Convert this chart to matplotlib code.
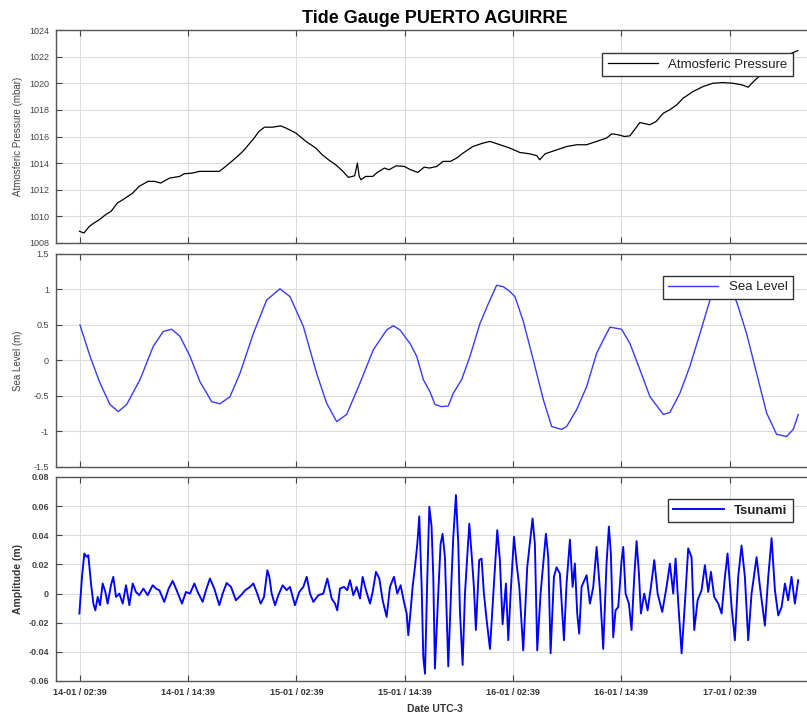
import matplotlib
matplotlib.use("Agg")
import matplotlib.pyplot as plt
import numpy as np

plt.rcParams['font.family'] = ['Liberation Sans', 'DejaVu Sans']

# time axis: hours since 14-01 00:00 (UTC-3)
tick_hours = [2.65, 14.65, 26.65, 38.65, 50.65, 62.65, 74.65]
tick_labels = ['14-01 / 02:39', '14-01 / 14:39', '15-01 / 02:39', '15-01 / 14:39',
               '16-01 / 02:39', '16-01 / 14:39', '17-01 / 02:39']

# atmospheric pressure (mbar)
pres_t = [2.6, 3.1, 3.7, 4.2, 4.8, 5.5, 6.1, 6.8, 7.4, 8.5, 9.2, 10.2, 10.9, 11.6,
          12.6, 13.7, 14.2, 15.1, 15.9, 17.0, 18.1, 18.8, 19.9, 20.7, 21.8, 22.5,
          23.1, 24.0, 24.9, 25.5, 26.6, 27.7, 28.8, 29.5, 30.3, 31.0, 31.8, 32.4,
          33.1, 33.4, 33.6, 33.8, 34.3, 35.1, 35.6, 36.4, 36.9, 37.7, 38.6, 39.3,
          40.1, 40.8, 41.4, 42.2, 42.9, 43.7, 44.4, 45.1, 46.2, 47.3, 48.1, 49.2,
          50.3, 51.4, 52.5, 53.3, 53.6, 54.2, 55.5, 56.6, 57.7, 58.8, 59.9, 61.0,
          61.6, 62.3, 63.0, 63.6, 64.1, 64.7, 65.8, 66.5, 67.3, 68.0, 68.8, 69.5,
          70.6, 71.7, 72.8, 73.9, 75.0, 76.0, 76.7, 77.4, 78.4, 79.5, 80.6, 81.5, 82.2]
pres_v = [1008.88, 1008.75, 1009.25, 1009.5, 1009.75, 1010.13, 1010.38, 1011.0,
          1011.25, 1011.75, 1012.25, 1012.63, 1012.63, 1012.5, 1012.88, 1013.0,
          1013.2, 1013.25, 1013.38, 1013.38, 1013.38, 1013.75, 1014.38, 1014.88,
          1015.75, 1016.38, 1016.7, 1016.7, 1016.8, 1016.63, 1016.25, 1015.63,
          1015.13, 1014.63, 1014.2, 1013.88, 1013.38, 1012.93, 1013.05, 1014.0,
          1013.0, 1012.75, 1013.0, 1013.0, 1013.3, 1013.63, 1013.5, 1013.8,
          1013.75, 1013.5, 1013.3, 1013.7, 1013.63, 1013.75, 1014.13, 1014.13,
          1014.38, 1014.75, 1015.25, 1015.5, 1015.63, 1015.38, 1015.13, 1014.8,
          1014.7, 1014.55, 1014.25, 1014.7, 1015.0, 1015.25, 1015.38, 1015.38,
          1015.63, 1015.88, 1016.2, 1016.13, 1016.0, 1016.05, 1016.5, 1017.05,
          1016.88, 1017.13, 1017.75, 1018.0, 1018.38, 1018.88, 1019.38, 1019.75,
          1020.0, 1020.05, 1020.0, 1019.88, 1019.7, 1020.2, 1020.8, 1021.38,
          1021.88, 1022.25, 1022.45]

# sea level (m)
sea_t = [2.66, 3.77, 4.88, 5.98, 6.91, 7.83, 9.31, 10.78, 11.89, 12.82, 13.74, 14.85,
         15.96, 17.25, 18.17, 19.28, 20.39, 21.87, 23.34, 24.82, 25.93, 27.41, 28.88,
         29.99, 31.10, 32.21, 33.68, 35.16, 36.64, 37.38, 38.12, 39.23, 39.97, 40.71,
         41.44, 42.0, 42.74, 43.48, 44.03, 44.95, 45.88, 46.98, 47.91, 48.83, 49.57,
         50.31, 50.86, 51.79, 52.89, 54.0, 54.93, 56.03, 56.59, 57.70, 58.80, 59.91,
         60.65, 61.39, 62.68, 63.60, 64.71, 65.82, 67.30, 68.04, 69.14, 70.25, 71.36,
         72.47, 73.58, 74.50, 75.42, 76.53, 77.64, 78.75, 79.86, 80.96, 81.70, 82.26]
sea_v = [0.50, 0.06, -0.32, -0.62, -0.72, -0.62, -0.27, 0.20, 0.41, 0.44, 0.34, 0.06,
         -0.30, -0.58, -0.61, -0.51, -0.18, 0.38, 0.85, 1.01, 0.90, 0.48, -0.18, -0.60,
         -0.86, -0.76, -0.32, 0.15, 0.43, 0.49, 0.43, 0.24, 0.06, -0.27, -0.44, -0.62,
         -0.65, -0.64, -0.46, -0.27, 0.06, 0.52, 0.80, 1.06, 1.04, 0.97, 0.90, 0.55,
         0.01, -0.55, -0.93, -0.97, -0.93, -0.69, -0.37, 0.10, 0.29, 0.47, 0.44, 0.24,
         -0.13, -0.51, -0.76, -0.73, -0.46, -0.08, 0.38, 0.85, 1.02, 1.02, 0.83, 0.38,
         -0.18, -0.74, -1.04, -1.07, -0.97, -0.76]

# tsunami residual (m)
tsu_t = [2.59, 2.88, 3.14, 3.40, 3.58, 3.88, 4.14, 4.36, 4.62, 4.88, 5.17, 5.47, 5.72,
         6.09, 6.35, 6.65, 7.02, 7.39, 7.76, 8.13, 8.50, 8.86, 9.23, 9.68, 10.16, 10.71,
         11.08, 11.45, 12.00, 12.48, 12.93, 13.37, 13.96, 14.40, 14.85, 15.33, 15.70,
         16.25, 16.62, 17.06, 17.54, 18.10, 18.47, 18.91, 19.39, 19.94, 20.50, 20.98,
         21.50, 21.87, 22.24, 22.68, 23.05, 23.42, 23.64, 23.90, 24.27, 24.64, 25.12,
         25.56, 25.93, 26.48, 26.96, 27.41, 27.78, 28.15, 28.52, 29.07, 29.62, 30.07,
         30.55, 30.92, 31.17, 31.47, 31.91, 32.28, 32.58, 32.95, 33.32, 33.69, 33.98,
         34.35, 34.80, 35.09, 35.46, 35.83, 36.20, 36.64, 37.01, 37.45, 37.82, 38.19,
         38.56, 38.86, 39.04, 39.30, 39.52, 39.78, 40.04, 40.26, 40.52, 40.70, 40.89,
         41.15, 41.37, 41.62, 41.81, 41.99, 42.36, 42.62, 42.84, 43.10, 43.47, 43.84,
         44.02, 44.32, 44.58, 44.76, 45.06, 45.32, 45.57, 45.80, 46.05, 46.31, 46.53,
         46.90, 47.16, 47.42, 47.72, 48.09, 48.53, 48.90, 49.19, 49.49, 49.86, 50.12,
         50.38, 50.75, 51.04, 51.34, 51.78, 52.22, 52.81, 53.07, 53.33, 53.70, 54.29,
         54.55, 54.81, 55.18, 55.47, 55.84, 56.29, 56.58, 56.95, 57.25, 57.50, 57.76,
         57.98, 58.24, 58.80, 59.17, 59.54, 59.91, 60.28, 60.64, 61.01, 61.27, 61.49,
         61.75, 62.01, 62.31, 62.68, 62.86, 63.12, 63.49, 63.78, 64.08, 64.34, 64.60,
         64.82, 65.19, 65.56, 65.93, 66.30, 66.67, 67.18, 67.66, 68.03, 68.40, 68.66,
         68.96, 69.33, 69.69, 70.06, 70.43, 70.73, 71.10, 71.54, 71.91, 72.28, 72.58,
         72.94, 73.39, 73.76, 74.13, 74.42, 74.87, 75.23, 75.60, 75.97, 76.34, 76.71,
         77.08, 77.64, 78.01, 78.56, 78.93, 79.30, 79.67, 80.04, 80.41, 80.78, 81.14,
         81.51, 81.88, 82.25]
tsu_v = [-0.0137, 0.0115, 0.0275, 0.0252, 0.0263, 0.0069, -0.0069, -0.0115, -0.0023,
         -0.0080, 0.0069, 0.0011, -0.0069, 0.0057, 0.0115, -0.0023, 0.0, -0.0069,
         0.0057, -0.0080, 0.0069, 0.0011, -0.0011, 0.0034, -0.0011, 0.0057, 0.0034,
         0.0023, -0.0057, 0.0034, 0.0087, 0.0023, -0.0069, 0.0011, 0.0, 0.0069, 0.0011,
         -0.0057, 0.0023, 0.0103, 0.0034, -0.0080, 0.0, 0.0073, 0.0046, -0.0046,
         -0.0011, 0.0023, 0.0046, 0.0069, 0.0011, -0.0069, -0.0023, 0.016, 0.0115,
         0.0, -0.008, -0.0011, 0.0057, 0.0023, 0.0046, -0.008, 0.0011, 0.0046, 0.0115,
         0.0, -0.0057, -0.0011, 0.0, 0.0103, -0.0034, -0.0069, -0.0115, 0.0034, 0.0046,
         0.0023, 0.0092, -0.0011, 0.0046, -0.0034, 0.0115, 0.0023, -0.0069, 0.0011,
         0.0149, 0.0103, -0.0046, -0.016, 0.0046, 0.0115, 0.0, 0.0057, -0.0057,
         -0.0137, -0.0286, -0.0115, 0.0046, 0.0183, 0.034, 0.053, 0.005, -0.0435,
         -0.055, 0.0115, 0.0596, 0.046, 0.0115, -0.0515, 0.0, 0.034, 0.041, 0.025,
         -0.050, 0.0115, 0.038, 0.0676, 0.034, -0.0115, -0.049, 0.0, 0.025, 0.048,
         0.0275, 0.0046, -0.025, 0.023, 0.024, 0.0, -0.018, -0.038, 0.0069, 0.0435,
         0.023, -0.021, 0.0069, -0.032, 0.0, 0.039, 0.0206, 0.0046, -0.039, 0.018,
         0.0515, 0.034, -0.039, 0.0, 0.041, 0.025, -0.041, 0.0115, 0.018, 0.0137,
         -0.032, 0.0069, 0.037, 0.0046, 0.0206, -0.0137, -0.0275, 0.0046, 0.0126,
         -0.0069, 0.0046, 0.032, 0.0023, -0.038, 0.0206, 0.046, 0.0275, -0.030,
         -0.0115, -0.0092, 0.023, 0.032, 0.0, -0.0069, -0.025, 0.0115, 0.036, 0.0137,
         -0.0137, 0.0, -0.0115, 0.0046, 0.023, 0.0, -0.0126, 0.0046, 0.0206, 0.0,
         0.024, -0.0069, -0.041, -0.0069, 0.031, 0.025, -0.025, -0.0046, 0.0023,
         0.0195, 0.0011, 0.0149, -0.0023, -0.0069, -0.0137, 0.0115, 0.0275, -0.0092,
         -0.032, 0.0115, 0.033, 0.0115, -0.032, 0.0, 0.025, 0.0046, -0.022, 0.0115,
         0.038, 0.0023, -0.015, -0.0092, 0.0069, -0.0046, 0.0115, -0.0069, 0.0092]

W, H = 807, 717
fig = plt.figure(figsize=(W / 100, H / 100), dpi=100)
left = 56 / W
width = 758 / W


def panel(top_px, bot_px):
    return fig.add_axes([left, 1 - bot_px / H, width, (bot_px - top_px) / H])


def style(ax, yticks, ylabels, bold=False):
    ax.set_xlim(0, 84)
    ax.set_xticks(tick_hours)
    ax.set_yticks(yticks)
    ax.set_ylim(yticks[0], yticks[-1])
    ax.set_yticklabels(ylabels, fontsize=6.5, color='#333333',
                       fontweight='bold' if bold else 'normal')
    ax.grid(True, color='#dcdcdc', lw=0.8)
    ax.set_axisbelow(True)
    ax.tick_params(direction='in', top=True, right=True, length=4, width=0.8,
                   colors='#444444', pad=5)
    for s in ax.spines.values():
        s.set_color('#555555')
        s.set_linewidth(1.0)


ax1 = panel(30, 243)
ax1.plot(pres_t, pres_v, color='black', lw=0.9, label='Atmosferic Pressure')
style(ax1, list(range(1008, 1025, 2)), [str(v) for v in range(1008, 1025, 2)])
ax1.set_xticklabels([])
ax1.set_ylabel('Atmosferic Pressure (mbar)', fontsize=7, color='#444444')
ax1.yaxis.set_label_coords(-0.044, 0.5)
ax1.set_title('Tide Gauge PUERTO AGUIRRE', fontsize=13, fontweight='bold', pad=5)

ax2 = panel(254, 467)
ax2.plot(sea_t, sea_v, color='#3a3aff', lw=1.0, label='Sea Level')
style(ax2, [-1.5, -1, -0.5, 0, 0.5, 1, 1.5], ['-1.5', '-1', '-0.5', '0', '0.5', '1', '1.5'])
ax2.set_xticklabels([])
ax2.set_ylabel('Sea Level (m)', fontsize=7, color='#444444')
ax2.yaxis.set_label_coords(-0.044, 0.5)

ax3 = panel(477, 681)
ax3.plot(tsu_t, tsu_v, color='#0000ff', lw=1.35, label='Tsunami')
style(ax3, [-0.06, -0.04, -0.02, 0, 0.02, 0.04, 0.06, 0.08],
      ['-0.06', '-0.04', '-0.02', '0', '0.02', '0.04', '0.06', '0.08'], bold=True)
ax3.set_xticklabels(tick_labels, fontsize=6.5, fontweight='bold', color='#333333')
ax3.set_ylabel('Amplitude (m)', fontsize=7.5, fontweight='bold', color='#333333')
ax3.yaxis.set_label_coords(-0.044, 0.5)
ax3.set_xlabel('Date UTC-3', fontsize=7.5, fontweight='bold', color='#333333', labelpad=5)

for ax, yb, bold in [(ax1, 0.892, False), (ax2, 0.897, False), (ax3, 0.892, True)]:
    leg = ax.legend(loc='upper right', bbox_to_anchor=(0.972, yb), borderaxespad=0,
                    fancybox=False, framealpha=1, edgecolor='#333333',
                    handlelength=3.8,
                    prop={'size': 9.5, 'weight': 'bold' if bold else 'normal'})
    leg.get_frame().set_linewidth(1.0)
    for t in leg.get_texts():
        t.set_color('#222222')

fig.savefig('out.png', dpi=100)
